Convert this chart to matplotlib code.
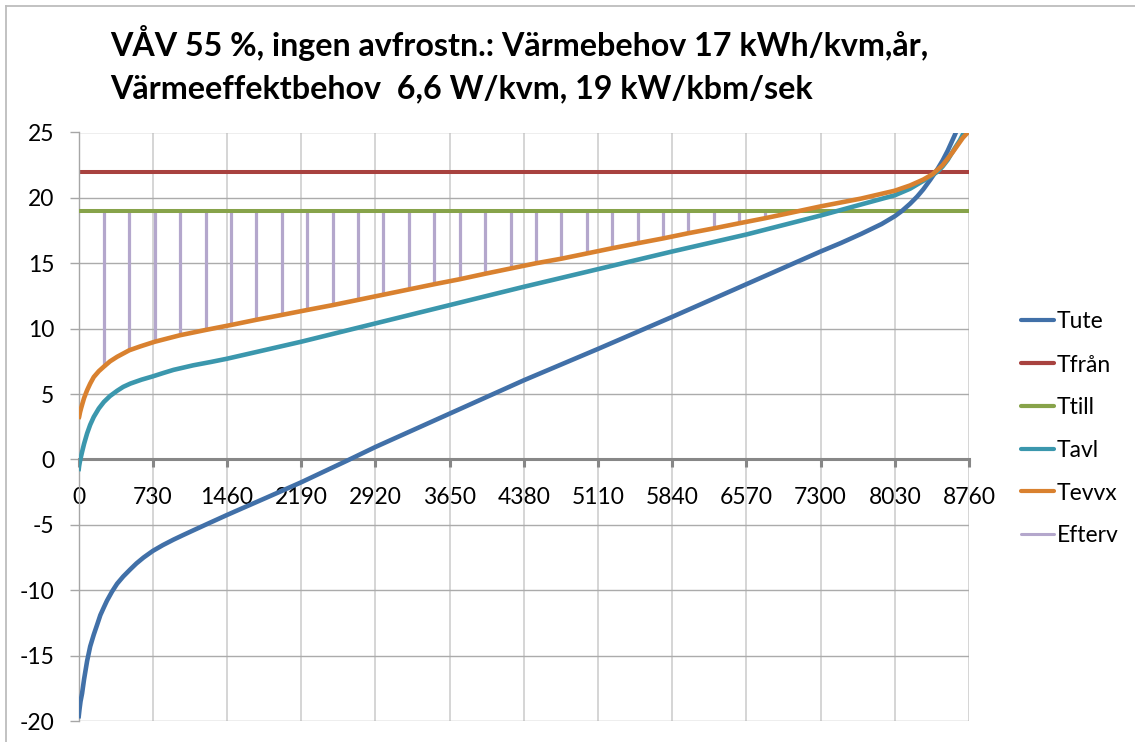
import matplotlib
matplotlib.use("Agg")
import matplotlib.pyplot as plt
from matplotlib.lines import Line2D

W, H, DPI = 1135, 742, 100
plt.rcParams['font.family'] = ['Lato', 'DejaVu Sans']

# ---- texts ----
title_lines = ["VÅV 55 %, ingen avfrostn.: Värmebehov 17 kWh/kvm,år,",
               "Värmeeffektbehov  6,6 W/kvm, 19 kW/kbm/sek"]
series_names = ["Tute", "Tfrån", "Ttill", "Tavl", "Tevvx", "Efterv"]

x_ticks = [0, 730, 1460, 2190, 2920, 3650, 4380, 5110, 5840, 6570, 7300, 8030, 8760]
y_ticks = [-20, -15, -10, -5, 0, 5, 10, 15, 20, 25]

# ---- data (hours of the year, sorted by outdoor temperature) ----
t_fran = 22.0
t_till = 19.0

tute_h = [0, 10, 20, 35, 55, 85, 115, 150, 185, 215, 250, 280, 330, 380, 440, 510, 570,
          640, 730, 830, 935, 1030, 1130, 1290, 1460, 1650, 1850, 2190, 2640, 2920,
          3650, 4380, 5110, 5840, 6570, 7300, 7500, 7700, 7900, 8030, 8100, 8180, 8250,
          8310, 8380, 8450, 8500, 8550, 8620, 8700, 8760]
tute = [-19.8, -19.1, -18.5, -17.9, -16.8, -15.4, -14.3, -13.4, -12.6, -11.9, -11.3,
        -10.8, -10.1, -9.5, -8.95, -8.4, -7.95, -7.5, -7.0, -6.55, -6.13, -5.78, -5.42,
        -4.85, -4.25, -3.6, -2.92, -1.75, -0.1, 0.95, 3.5, 6.05, 8.45, 10.9, 13.4, 15.9,
        16.55, 17.25, 18.0, 18.6, 19.0, 19.55, 20.1, 20.65, 21.4, 22.2, 22.85, 23.6,
        24.8, 26.3, 27.5]

tavl_h = [0, 6, 13, 24, 36, 55, 85, 115, 150, 200, 250, 310, 380, 440, 510, 620, 730,
          830, 935, 1130, 1300, 1460, 2190, 2920, 3650, 4380, 5110, 5840, 6570, 7300,
          7700, 8030, 8180, 8310, 8400, 8450, 8500, 8550, 8620, 8670, 8710, 8760]
tavl = [-0.9, -0.5, -0.2, 0.2, 0.6, 1.2, 2.0, 2.65, 3.25, 3.9, 4.4, 4.85, 5.25, 5.55,
        5.8, 6.1, 6.35, 6.6, 6.85, 7.2, 7.45, 7.7, 9.0, 10.4, 11.8, 13.2, 14.55, 15.9,
        17.2, 18.65, 19.5, 20.2, 20.7, 21.3, 21.75, 22.0, 22.4, 22.9, 23.8, 24.4, 25.0,
        25.8]

tevvx_h = [0, 6, 15, 25, 36, 55, 85, 115, 150, 200, 250, 310, 380, 440, 500, 610, 750,
           1000, 1250, 1500, 1750, 2000, 2250, 2500, 2750, 3000, 3250, 3500, 3750, 4000,
           4250, 4500, 4750, 5000, 5250, 5500, 5750, 6000, 6250, 6500, 6750, 7000, 7300,
           7700, 8030, 8180, 8310, 8400, 8500, 8600, 8700, 8760]
tevvx = [3.1, 3.25, 3.6, 3.9, 4.2, 4.7, 5.3, 5.8, 6.3, 6.75, 7.1, 7.5, 7.85, 8.1, 8.35,
         8.65, 9.0, 9.5, 9.9, 10.28, 10.68, 11.05, 11.43, 11.8, 12.2, 12.6, 13.0, 13.4,
         13.78, 14.2, 14.6, 15.0, 15.35, 15.75, 16.15, 16.53, 16.9, 17.3, 17.67, 18.06,
         18.44, 18.85, 19.35, 19.95, 20.55, 20.95, 21.4, 21.8, 22.5, 23.5, 24.6, 25.1]

# after-heating: from the heat-exchanger outlet temperature up to the supply set point
efterv_h = [250, 500, 750, 1000, 1250, 1500, 1750, 2000, 2250, 2500, 2750, 3000, 3250,
            3500, 3750, 4000, 4250, 4500, 4750, 5000, 5250, 5500, 5750, 6000, 6250,
            6500, 6750]
efterv_low = [7.1, 8.35, 9.0, 9.5, 9.9, 10.28, 10.68, 11.05, 11.43, 11.8, 12.2, 12.6,
              13.0, 13.4, 13.78, 14.2, 14.6, 15.0, 15.35, 15.75, 16.15, 16.53, 16.9,
              17.3, 17.67, 18.06, 18.44]

colors = {
    "Tute": "#4170a8",
    "Tfrån": "#a8423f",
    "Ttill": "#87a34a",
    "Tavl": "#3b97ad",
    "Tevvx": "#d9812f",
    "Efterv": "#b4a7cc",
}

fig = plt.figure(figsize=(W / DPI, H / DPI), dpi=DPI)
fig.patch.set_facecolor("white")


def fx(px):
    return px / W


def fy(py):
    return 1 - py / H


ax = fig.add_axes([fx(78.5), fy(721), fx(969) - fx(78.5), fy(132.5) - fy(721)])
ax.set_xlim(0, 8760)
ax.set_ylim(-20, 25)

# gridlines
for yv in y_ticks:
    if yv != 0:
        ax.axhline(yv, color="#ababab", lw=1.0, zorder=0.5)
for xv in x_ticks[1:]:
    ax.axvline(xv, color="#d2d2d2", lw=1.3, zorder=0.4)

# series
ax.vlines(efterv_h, efterv_low, t_till, colors=colors["Efterv"], lw=2.3, zorder=1)
lw_curve = 3.3
ax.plot(tute_h, tute, color=colors["Tute"], lw=lw_curve, zorder=3, solid_capstyle="butt")
ax.plot([0, 8760], [t_fran, t_fran], color=colors["Tfrån"], lw=2.9, zorder=2.5,
        solid_capstyle="butt")
ax.plot([0, 8760], [t_till, t_till], color=colors["Ttill"], lw=2.9, zorder=2.6,
        solid_capstyle="butt")
ax.plot(tavl_h, tavl, color=colors["Tavl"], lw=lw_curve, zorder=3.2, solid_capstyle="butt")
ax.plot(tevvx_h, tevvx, color=colors["Tevvx"], lw=lw_curve, zorder=3.4,
        solid_capstyle="butt")

# axes styling
for s in ["top", "right"]:
    ax.spines[s].set_visible(False)
ax.spines["left"].set_color("#a6a6a6")
ax.spines["left"].set_linewidth(1.0)
ax.spines["bottom"].set_position(("data", 0))
ax.spines["bottom"].set_color("#878787")
ax.spines["bottom"].set_linewidth(2.2)
ax.spines["bottom"].set_zorder(2)

ax.set_xticks(x_ticks)
ax.set_xticklabels([str(v) for v in x_ticks])
ax.set_yticks(y_ticks)
ax.set_yticklabels([str(v) for v in y_ticks])
ax.tick_params(axis="x", direction="out", length=5.5, width=2.2, color="#878787",
               pad=14, labelsize=16.5, labelcolor="black")
ax.tick_params(axis="y", direction="out", length=6.5, width=1.0, color="#a6a6a6",
               pad=11, labelsize=16.5, labelcolor="black")

# title
fig.text(fx(110), fy(56), title_lines[0], fontsize=23.2, fontweight="bold",
         ha="left", va="baseline")
fig.text(fx(110), fy(98), title_lines[1], fontsize=23.2, fontweight="bold",
         ha="left", va="baseline")

# legend
leg_y = [320, 363, 406, 448.5, 491, 534]
for name, yy in zip(series_names, leg_y):
    lw = 2.2 if name == "Efterv" else 3.0
    fig.add_artist(Line2D([fx(1021), fx(1054)], [fy(yy), fy(yy)], color=colors[name],
                          lw=lw, solid_capstyle="round", transform=fig.transFigure))
    fig.text(fx(1056.5), fy(yy), name, fontsize=16.5, ha="left", va="center_baseline")

# chart frame
frame_col = "#bdbdbd"
fig.add_artist(Line2D([fx(6), 1.0], [fy(6), fy(6)], color=frame_col, lw=1.3,
                      transform=fig.transFigure))
fig.add_artist(Line2D([fx(6), fx(6)], [fy(6), 0.0], color=frame_col, lw=1.3,
                      transform=fig.transFigure))

fig.savefig("out.png", dpi=DPI, facecolor="white")
